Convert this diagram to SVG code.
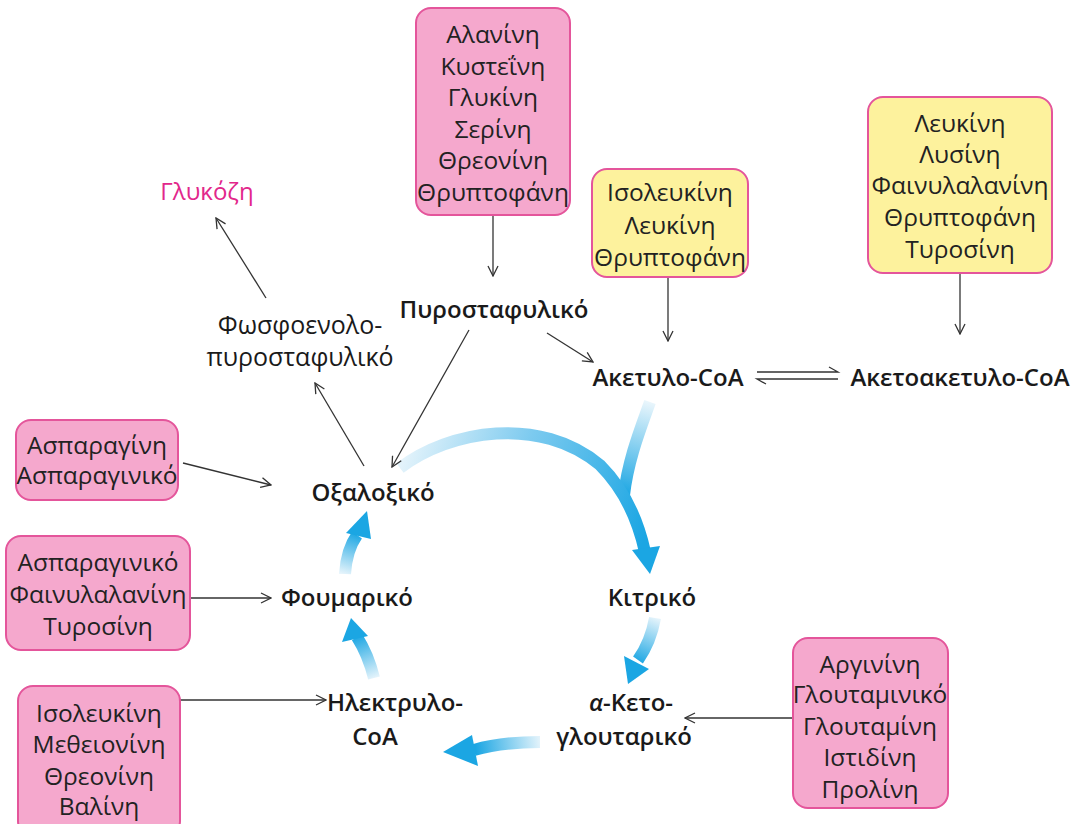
<svg xmlns="http://www.w3.org/2000/svg" width="1073" height="824" viewBox="0 0 1073 824">
<defs>
<style>
.bp{fill:#f5a8cd;stroke:#e4559b;stroke-width:2}
.by{fill:#fdf29d;stroke:#e4559b;stroke-width:2}
.bt{font-family:"Open Sans","Noto Sans",sans-serif;font-size:24.5px;fill:#222;text-anchor:middle}
.lb{font-family:"Open Sans","Noto Sans",sans-serif;font-size:24px;font-weight:600;fill:#1a1a1a;text-anchor:middle}
.lr{font-family:"Open Sans","Noto Sans",sans-serif;font-size:25px;fill:#1a1a1a;text-anchor:middle}
.ln{fill:none;stroke:#333;stroke-width:1.3}
.ar{marker-end:url(#ah)}
.bh{fill:#1ba6e3}
.bs{fill:none;stroke-width:12}
</style>
<marker id="ah" viewBox="0 0 12 12" refX="11" refY="6" markerWidth="12" markerHeight="12" markerUnits="userSpaceOnUse" orient="auto">
<path d="M1,1 L11,6 L1,11" fill="none" stroke="#333" stroke-width="1.3"/>
</marker>
<linearGradient id="g1" gradientUnits="userSpaceOnUse" x1="400" y1="468" x2="640" y2="550"><stop offset="0" stop-color="#e3f3fb"/><stop offset="0.45" stop-color="#7ccaef"/><stop offset="1" stop-color="#1ba6e3"/></linearGradient>
<linearGradient id="g2" gradientUnits="userSpaceOnUse" x1="650" y1="402" x2="625" y2="495"><stop offset="0" stop-color="#eaf6fc"/><stop offset="1" stop-color="#1ba6e3"/></linearGradient>
<linearGradient id="g3" gradientUnits="userSpaceOnUse" x1="655" y1="618" x2="636" y2="662"><stop offset="0" stop-color="#e3f3fb"/><stop offset="1" stop-color="#1ba6e3"/></linearGradient>
<linearGradient id="g4" gradientUnits="userSpaceOnUse" x1="540" y1="742" x2="476" y2="750"><stop offset="0" stop-color="#e3f3fb"/><stop offset="1" stop-color="#1ba6e3"/></linearGradient>
<linearGradient id="g5" gradientUnits="userSpaceOnUse" x1="374" y1="678" x2="357" y2="636"><stop offset="0" stop-color="#e3f3fb"/><stop offset="1" stop-color="#1ba6e3"/></linearGradient>
<linearGradient id="g6" gradientUnits="userSpaceOnUse" x1="345" y1="574" x2="358" y2="534"><stop offset="0" stop-color="#e3f3fb"/><stop offset="1" stop-color="#1ba6e3"/></linearGradient>
</defs>
<rect width="1073" height="824" fill="#fff"/>

<g id="cycle-arrows">
<path class="bs" stroke="url(#g2)" d="M650,402 C640,430 628,460 624,495" stroke-width="10"/>
<path class="bs" stroke="url(#g1)" d="M400,468 C450,430 540,415 600,465 C625,490 638,520 645,552"/>
<polygon class="bh" points="632,550 660,546 650,574"/>
<path class="bs" stroke="url(#g3)" d="M655,618 C652,635 645,650 638,660" stroke-width="10"/>
<polygon class="bh" points="624,656 649,669 628,684"/>
<path class="bs" stroke="url(#g4)" d="M540,742 C515,742 495,744 474,750" stroke-width="12"/>
<polygon class="bh" points="472,735 478,766 443,752"/>
<path class="bs" stroke="url(#g5)" d="M374,678 C370,662 364,648 357,637" stroke-width="11"/>
<polygon class="bh" points="342,642 368,636 351,618"/>
<path class="bs" stroke="url(#g6)" d="M345,574 C346,558 350,545 357,535" stroke-width="11"/>
<polygon class="bh" points="346,533 371,539 367,511"/>
</g>

<g id="connectors">
<line class="ln ar" x1="493" y1="216" x2="493" y2="276"/>
<line class="ln ar" x1="668" y1="278" x2="668" y2="341"/>
<line class="ln ar" x1="960" y1="274" x2="960" y2="334"/>
<line class="ln ar" x1="547" y1="333" x2="593" y2="362"/>
<line class="ln ar" x1="469" y1="330" x2="392" y2="467"/>
<line class="ln ar" x1="364" y1="466" x2="315" y2="383"/>
<line class="ln ar" x1="266" y1="298" x2="216" y2="218"/>
<line class="ln ar" x1="183" y1="463" x2="271" y2="485"/>
<line class="ln ar" x1="190" y1="598" x2="271" y2="598"/>
<line class="ln ar" x1="180" y1="700" x2="326" y2="700"/>
<line class="ln ar" x1="793" y1="718" x2="685" y2="718"/>
<path class="ln" d="M757,372 L838,372 L829,367"/>
<path class="ln" d="M838,379 L757,379 L766,384"/>
</g>

<g id="box-top">
<rect class="bp" x="416" y="8" width="154" height="207" rx="15"/>
<text class="bt" x="493" y="43">Αλανίνη</text>
<text class="bt" x="493" y="75">Κυστεΐνη</text>
<text class="bt" x="493" y="106">Γλυκίνη</text>
<text class="bt" x="493" y="138">Σερίνη</text>
<text class="bt" x="493" y="169">Θρεονίνη</text>
<text class="bt" x="493" y="201">Θρυπτοφάνη</text>
</g>
<g id="box-acetyl">
<rect class="by" x="592" y="169" width="156" height="108" rx="15"/>
<text class="bt" x="670" y="201">Ισολευκίνη</text>
<text class="bt" x="670" y="234">Λευκίνη</text>
<text class="bt" x="670" y="266">Θρυπτοφάνη</text>
</g>
<g id="box-acetoacetyl">
<rect class="by" x="868" y="97" width="184" height="176" rx="15"/>
<text class="bt" x="960" y="132">Λευκίνη</text>
<text class="bt" x="960" y="163">Λυσίνη</text>
<text class="bt" x="960" y="194">Φαινυλαλανίνη</text>
<text class="bt" x="960" y="226">Θρυπτοφάνη</text>
<text class="bt" x="960" y="258">Τυροσίνη</text>
</g>
<g id="box-oxalo">
<rect class="bp" x="16" y="420" width="162" height="80" rx="15"/>
<text class="bt" x="97" y="454">Ασπαραγίνη</text>
<text class="bt" x="97" y="484">Ασπαραγινικό</text>
</g>
<g id="box-fumar">
<rect class="bp" x="6" y="536" width="184" height="114" rx="15"/>
<text class="bt" x="98" y="571">Ασπαραγινικό</text>
<text class="bt" x="98" y="603">Φαινυλαλανίνη</text>
<text class="bt" x="98" y="635">Τυροσίνη</text>
</g>
<g id="box-succ">
<rect class="bp" x="18" y="686" width="162" height="150" rx="15"/>
<text class="bt" x="99" y="722">Ισολευκίνη</text>
<text class="bt" x="99" y="753">Μεθειονίνη</text>
<text class="bt" x="99" y="785">Θρεονίνη</text>
<text class="bt" x="99" y="815">Βαλίνη</text>
</g>
<g id="box-keto">
<rect class="bp" x="793" y="638" width="155" height="170" rx="15"/>
<text class="bt" x="870" y="673">Αργινίνη</text>
<text class="bt" x="870" y="703">Γλουταμινικό</text>
<text class="bt" x="870" y="735">Γλουταμίνη</text>
<text class="bt" x="870" y="766">Ιστιδίνη</text>
<text class="bt" x="870" y="798">Προλίνη</text>
</g>

<g id="glucose"><text class="lr" x="207" y="200" style="fill:#e2278b;font-size:24px">Γλυκόζη</text></g>
<g id="pep"><text class="lr" x="300" y="334">Φωσφοενολο-</text><text class="lr" x="300" y="366">πυροσταφυλικό</text></g>
<g id="pyruvate"><text class="lb" x="494" y="318">Πυροσταφυλικό</text></g>
<g id="acetylcoa"><text class="lb" x="668" y="386">Ακετυλο-CoA</text></g>
<g id="acetoacetylcoa"><text class="lb" x="960" y="386">Ακετοακετυλο-CoA</text></g>
<g id="oxaloacetate"><text class="lb" x="373" y="501">Οξαλοξικό</text></g>
<g id="citrate"><text class="lb" x="652" y="606">Κιτρικό</text></g>
<g id="fumarate"><text class="lb" x="347" y="606">Φουμαρικό</text></g>
<g id="succinylcoa"><text class="lb" x="395" y="711">Ηλεκτρυλο-</text><text class="lb" x="375" y="745">CoA</text></g>
<g id="aketoglutarate"><text class="lb" x="631" y="711"><tspan font-style="italic">α</tspan>-Κετο-</text><text class="lb" x="624" y="745">γλουταρικό</text></g>
</svg>
